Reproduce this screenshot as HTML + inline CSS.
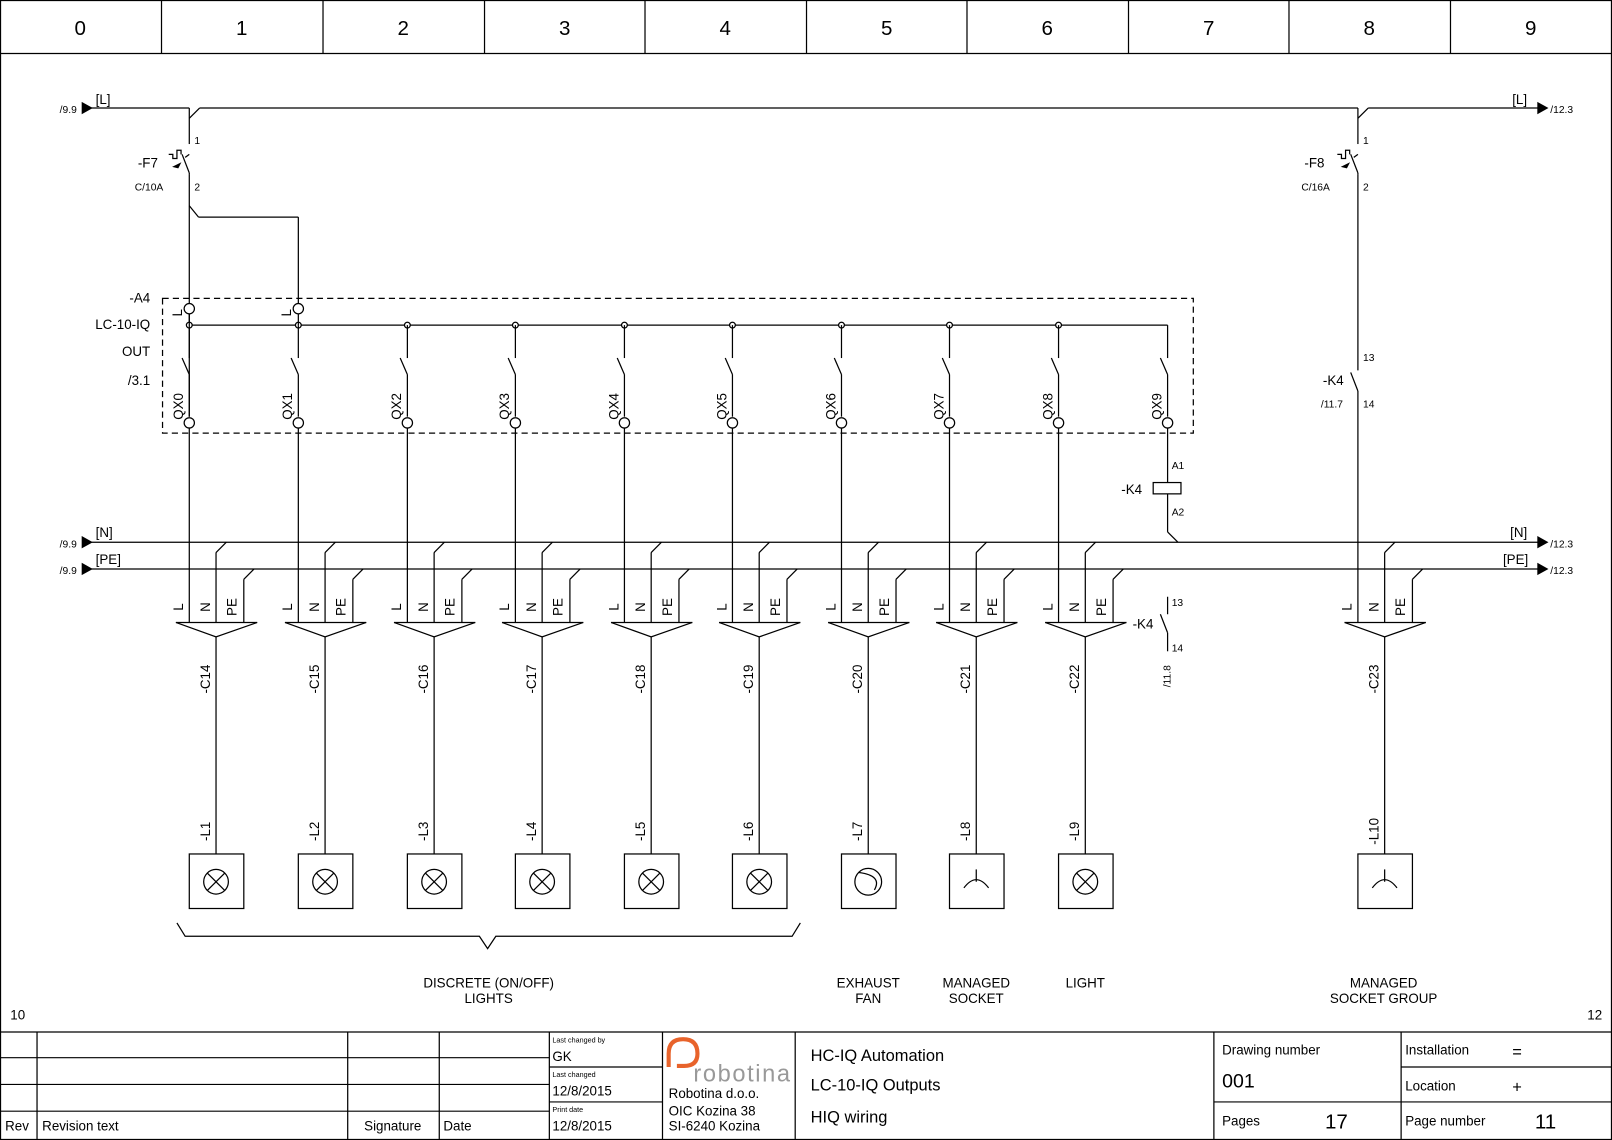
<!DOCTYPE html>
<html><head><meta charset="utf-8"><style>
html,body{margin:0;padding:0;background:#fff;}
svg{display:block;}
text{font-family:"Liberation Sans",Arial,sans-serif;fill:#000;}
.s{font-size:10px}.m{font-size:13px}.h{font-size:20px}.t{font-size:16px}
</style></head><body>
<svg id="sv" width="1612" height="1140" viewBox="0 0 1567 1108" preserveAspectRatio="none" xmlns="http://www.w3.org/2000/svg">
<g id="geo" stroke="#000" stroke-width="1.2" fill="none"></g>
<g class="h" text-anchor="middle">
<text x="78" y="34">0</text><text x="235" y="34">1</text><text x="392" y="34">2</text><text x="549" y="34">3</text><text x="705" y="34">4</text><text x="862" y="34">5</text><text x="1018" y="34">6</text><text x="1175" y="34">7</text><text x="1331" y="34">8</text><text x="1488" y="34">9</text>
</g>
<g class="s">
<text x="58" y="110">/9.9</text><text x="58" y="532">/9.9</text><text x="58" y="558">/9.9</text>
<text x="1507" y="110">/12.3</text><text x="1507" y="532">/12.3</text><text x="1507" y="558">/12.3</text>
<text x="189" y="140">1</text><text x="189" y="185">2</text><text x="1325" y="140">1</text><text x="1325" y="185">2</text>
<text x="131" y="185">C/10A</text><text x="1265" y="185">C/16A</text>
<text x="1139" y="456">A1</text><text x="1139" y="501">A2</text>
<text x="1325" y="351">13</text><text x="1325" y="396">14</text><text x="1284" y="396">/11.7</text>
<text x="1139" y="589">13</text><text x="1139" y="633">14</text>
<text transform="translate(1138,668) rotate(-90)">/11.8</text>
</g>
<g class="m">
<text x="93" y="101">[L]</text><text x="93" y="522">[N]</text><text x="93" y="548">[PE]</text>
<text x="1470" y="101">[L]</text><text x="1468" y="522">[N]</text><text x="1461" y="548">[PE]</text>
<text x="134" y="163">-F7</text><text x="1268" y="163">-F8</text>
<text x="1090" y="480">-K4</text><text x="1286" y="374">-K4</text><text x="1101" y="611">-K4</text>
<g text-anchor="end"><text x="146" y="294">-A4</text><text x="146" y="320">LC-10-IQ</text><text x="146" y="346">OUT</text><text x="146" y="374">/3.1</text></g>
<g text-anchor="middle">
<text transform="translate(177,304) rotate(-90)">L</text><text transform="translate(283,304) rotate(-90)">L</text>
<text transform="translate(178,395) rotate(-90)">QX0</text><text transform="translate(284,395) rotate(-90)">QX1</text><text transform="translate(390,395) rotate(-90)">QX2</text><text transform="translate(495,395) rotate(-90)">QX3</text><text transform="translate(601,395) rotate(-90)">QX4</text><text transform="translate(706,395) rotate(-90)">QX5</text><text transform="translate(812,395) rotate(-90)">QX6</text><text transform="translate(917,395) rotate(-90)">QX7</text><text transform="translate(1023,395) rotate(-90)">QX8</text><text transform="translate(1129,395) rotate(-90)">QX9</text>
<text transform="translate(178,590) rotate(-90)">L</text><text transform="translate(204,590) rotate(-90)">N</text><text transform="translate(230,590) rotate(-90)">PE</text>
<text transform="translate(284,590) rotate(-90)">L</text><text transform="translate(310,590) rotate(-90)">N</text><text transform="translate(336,590) rotate(-90)">PE</text>
<text transform="translate(390,590) rotate(-90)">L</text><text transform="translate(416,590) rotate(-90)">N</text><text transform="translate(442,590) rotate(-90)">PE</text>
<text transform="translate(495,590) rotate(-90)">L</text><text transform="translate(521,590) rotate(-90)">N</text><text transform="translate(547,590) rotate(-90)">PE</text>
<text transform="translate(601,590) rotate(-90)">L</text><text transform="translate(627,590) rotate(-90)">N</text><text transform="translate(653,590) rotate(-90)">PE</text>
<text transform="translate(706,590) rotate(-90)">L</text><text transform="translate(732,590) rotate(-90)">N</text><text transform="translate(758,590) rotate(-90)">PE</text>
<text transform="translate(812,590) rotate(-90)">L</text><text transform="translate(838,590) rotate(-90)">N</text><text transform="translate(864,590) rotate(-90)">PE</text>
<text transform="translate(917,590) rotate(-90)">L</text><text transform="translate(943,590) rotate(-90)">N</text><text transform="translate(969,590) rotate(-90)">PE</text>
<text transform="translate(1023,590) rotate(-90)">L</text><text transform="translate(1049,590) rotate(-90)">N</text><text transform="translate(1075,590) rotate(-90)">PE</text>
<text transform="translate(1314,590) rotate(-90)">L</text><text transform="translate(1340,590) rotate(-90)">N</text><text transform="translate(1366,590) rotate(-90)">PE</text>
<text transform="translate(204,660) rotate(-90)">-C14</text><text transform="translate(310,660) rotate(-90)">-C15</text><text transform="translate(416,660) rotate(-90)">-C16</text><text transform="translate(521,660) rotate(-90)">-C17</text><text transform="translate(627,660) rotate(-90)">-C18</text><text transform="translate(732,660) rotate(-90)">-C19</text><text transform="translate(838,660) rotate(-90)">-C20</text><text transform="translate(943,660) rotate(-90)">-C21</text><text transform="translate(1049,660) rotate(-90)">-C22</text><text transform="translate(1340,660) rotate(-90)">-C23</text>
<text transform="translate(204,808) rotate(-90)">-L1</text><text transform="translate(310,808) rotate(-90)">-L2</text><text transform="translate(416,808) rotate(-90)">-L3</text><text transform="translate(521,808) rotate(-90)">-L4</text><text transform="translate(627,808) rotate(-90)">-L5</text><text transform="translate(732,808) rotate(-90)">-L6</text><text transform="translate(838,808) rotate(-90)">-L7</text><text transform="translate(943,808) rotate(-90)">-L8</text><text transform="translate(1049,808) rotate(-90)">-L9</text><text transform="translate(1340,808) rotate(-90)">-L10</text>
<text x="475" y="960">DISCRETE (ON/OFF)</text><text x="475" y="975">LIGHTS</text>
<text x="844" y="960">EXHAUST</text><text x="844" y="975">FAN</text>
<text x="949" y="960">MANAGED</text><text x="949" y="975">SOCKET</text>
<text x="1055" y="960">LIGHT</text>
<text x="1345" y="960">MANAGED</text><text x="1345" y="975">SOCKET GROUP</text>
</g>
<text x="10" y="991">10</text><text x="1543" y="991">12</text>
<text x="5" y="1099">Rev</text><text x="41" y="1099">Revision text</text><text x="354" y="1099">Signature</text><text x="431" y="1099">Date</text>
<text x="537" y="1031">GK</text><text x="537" y="1065">12/8/2015</text><text x="537" y="1099">12/8/2015</text>
<text x="650" y="1067">Robotina d.o.o.</text><text x="650" y="1084">OIC Kozina 38</text><text x="650" y="1099">SI-6240 Kozina</text>
<text x="1188" y="1025">Drawing number</text><text x="1188" y="1094">Pages</text>
<text x="1366" y="1025">Installation</text><text x="1366" y="1060">Location</text><text x="1366" y="1094">Page number</text>
</g>
<g style="font-size:7px"><text x="537" y="1013">Last changed by</text><text x="537" y="1047">Last changed</text><text x="537" y="1081">Print date</text></g>
<g class="t">
<text x="788" y="1031">HC-IQ Automation</text><text x="788" y="1060">LC-10-IQ Outputs</text><text x="788" y="1091">HIQ wiring</text>
<text x="1188" y="1057" style="font-size:19px">001</text>
<text x="1288" y="1097" style="font-size:20px">17</text><text x="1492" y="1097" style="font-size:20px">11</text>
<text x="1470" y="1028">=</text><text x="1470" y="1062">+</text>
</g>
<text x="674" y="1051" style="font-size:23px;fill:#999;" textLength="94">robotina</text>
<path d="M650 1037 L650 1024 Q650 1010 664 1010 Q678 1010 678 1024 Q678 1036 665 1036 L658 1036" stroke="#e8632b" stroke-width="4" fill="none"/>
</svg>
<script>
(function(){
var g=document.getElementById('geo'),NS='http://www.w3.org/2000/svg';
function el(t,a){var e=document.createElementNS(NS,t);for(var k in a)e.setAttribute(k,a[k]);g.appendChild(e);return e;}
function L(x1,y1,x2,y2,w){el('line',{x1:x1,y1:y1,x2:x2,y2:y2,'stroke-width':w||1.2});}
function P(d,f){el('path',{d:d,fill:f||'none'});}
el('rect',{x:0.5,y:0.5,width:1566,height:1107});
L(0,52,1567,52);
[157,314,471,627,784,940,1097,1253,1410].forEach(function(x){L(x,0,x,52);});
L(88,105,184,105);L(194,105,1320,105);L(1330,105,1495,105);
L(184,105,184,140);L(184,115,194,105);L(1320,105,1320,140);L(1320,115,1330,105);
[[80,105],[80,527],[80,553]].forEach(function(p){P('M'+p[0]+' '+(p[1]-5)+' L'+(p[0]+9)+' '+p[1]+' L'+p[0]+' '+(p[1]+5)+'Z','#000');});
[[1495,105],[1495,527],[1495,553]].forEach(function(p){P('M'+p[0]+' '+(p[1]-5)+' L'+(p[0]+9)+' '+p[1]+' L'+p[0]+' '+(p[1]+5)+'Z','#000');});
[184,1320].forEach(function(x){
 L(x-7,150,x,168);L(x,168,x,170);L(x,150,x-4,153);
 P('M'+(x-8)+' 150 l0 -4 l-4 0 l0 8 l-4 0 l0 -4 l-4 0');P('M'+(x-15)+' 162 l6 -3 l-2 4z','#000');
});
L(184,170,184,405);
L(184,200,193,211);L(193,211,290,211);L(290,211,290,295);
el('rect',{x:158,y:290,width:1002,height:131,'stroke-dasharray':'6,4'});
var cols=[184,290,396,501,607,712,818,923,1029,1135];
L(184,316,1135,316);
cols.forEach(function(c,i){
 if(i<9) el('circle',{cx:c,cy:316,r:2.8,fill:'#fff'});
 if(i>0) L(c,316,c,348);
 L(c-7,348,c,364);L(c,364,c,405);
 el('circle',{cx:c,cy:411,r:5,fill:'#fff'});
});
L(290,305,290,316);
el('circle',{cx:184,cy:300,r:5,fill:'#fff'});el('circle',{cx:290,cy:300,r:5,fill:'#fff'});
L(184,305,184,348);
L(88,527,1495,527);L(88,553,1495,553);
L(1135,416,1135,469);el('rect',{x:1121,y:469,width:27,height:11});L(1135,480,1135,517);L(1135,517,1145,527);
L(1320,170,1320,360);L(1313,362,1320,380);L(1320,380,1320,605);
L(1135,580,1135,597);L(1128,597,1135,615);L(1135,615,1135,633);
var groups=[184,290,396,501,607,712,818,923,1029,1320];
groups.forEach(function(c,i){
 var n=c+26,p=c+53;
 if(i<9) L(c,416,c,605);
 L(n,537,n,605);L(n,537,n+10,527);
 L(p,563,p,605);L(p,563,p+10,553);
 L(c-13,605,p+13,605);L(c-13,605,n,619);L(p+13,605,n,619);
 L(n,619,n,830);
 el('rect',{x:n-26,y:830,width:53,height:53});
 var cy=857;
 if(i==6){el('circle',{cx:n,cy:cy,r:13});P('M'+(n-9)+' '+(cy-9)+' Q'+(n+14)+' '+(cy-6)+' '+(n+6)+' '+(cy+8));}
 else if(i==7||i==9){L(n,cy-12,n,cy);P('M'+(n-12)+' '+(cy+6)+' Q'+n+' '+(cy-10)+' '+(n+12)+' '+(cy+6));}
 else {el('circle',{cx:n,cy:cy,r:12});L(n-8.5,cy-8.5,n+8.5,cy+8.5);L(n-8.5,cy+8.5,n+8.5,cy-8.5);}
});
P('M172 897 L180 910 L466 910 L474 922 L482 910 L770 910 L778 897');
L(0,1003,1567,1003);
[36,338,427].forEach(function(x){L(x,1003,x,1107);});
[534,644,773,1180,1362].forEach(function(x){L(x,1003,x,1107);});
[1028,1054,1080].forEach(function(y){L(0,y,534,y);});
[1037,1071].forEach(function(y){L(534,y,644,y);});
L(1180,1071,1362,1071);
[1037,1071].forEach(function(y){L(1362,y,1567,y);});
})();
</script>
</body></html>
